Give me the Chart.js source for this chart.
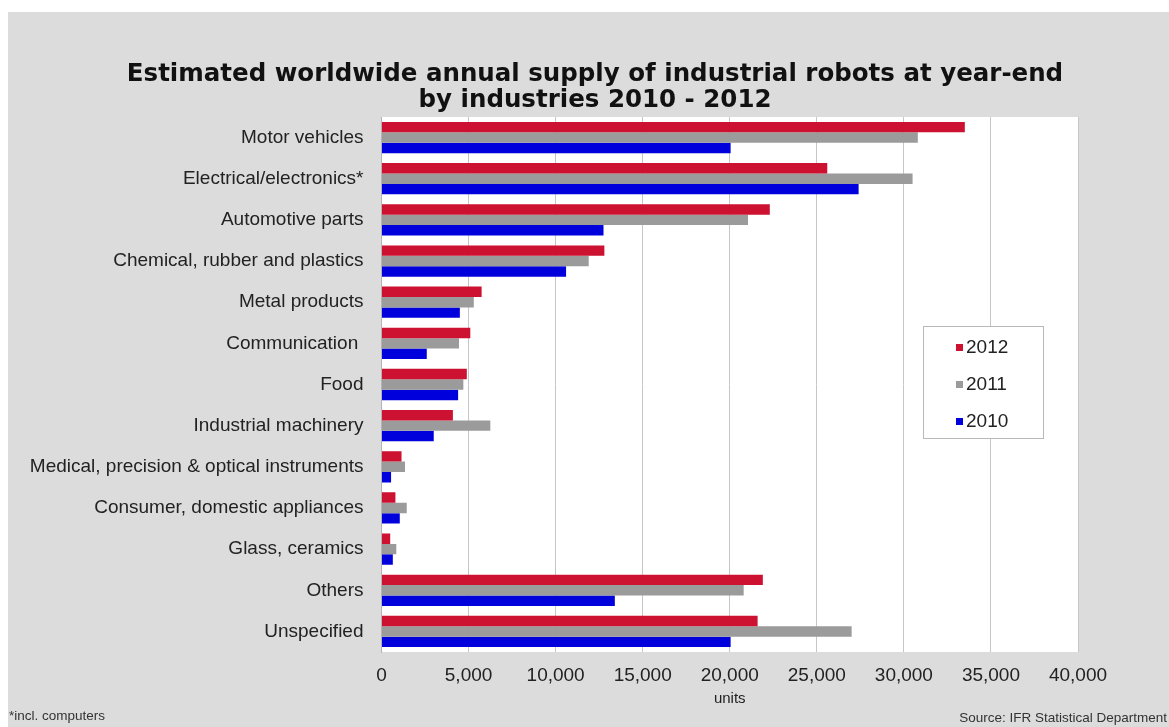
<!DOCTYPE html>
<html lang="en">
<head>
    <meta charset="UTF-8">
    <title>Industrial robots by industries</title>
    <script src="https://cdn.jsdelivr.net/npm/chart.js"></script>
    <style>
        body {
            margin: 0;
            background: #ffffff;
        }
        #wrap {
            position: absolute;
            left: 8px;
            top: 12px;
            width: 1161px;
            height: 715px;
            background: #dcdcdc;
        }
    </style>
</head>
<body>
    <div id="wrap">
        <canvas id="myChart" width="1161" height="715"></canvas>
    </div>

    <script>
        const titleLines = ['Estimated worldwide annual supply of industrial robots at year-end', 'by industries 2010 - 2012'];
        const industries = [
            'Motor vehicles',
            'Electrical/electronics*',
            'Automotive parts',
            'Chemical, rubber and plastics',
            'Metal products',
            'Communication ',
            'Food',
            'Industrial machinery',
            'Medical, precision & optical instruments',
            'Consumer, domestic appliances',
            'Glass, ceramics',
            'Others',
            'Unspecified'
        ];
        const years = ['2012', '2011', '2010'];
        const supply2012 = [33500, 25600, 22300, 12800, 5750, 5100, 4900, 4100, 1150, 800, 500, 21900, 21600];
        const supply2011 = [30800, 30500, 21050, 11900, 5300, 4450, 4700, 6250, 1350, 1450, 850, 20800, 27000];
        const supply2010 = [20050, 27400, 12750, 10600, 4500, 2600, 4400, 3000, 550, 1050, 650, 13400, 20050];
        const xTicks = [0, 5000, 10000, 15000, 20000, 25000, 30000, 35000, 40000];
        const colors = ['#cc1131', '#9b9b9b', '#0000dc'];

        const fontName = "'Liberation Sans', Arial, sans-serif";

        // white plot background
        const plotBackground = {
            id: 'plotBackground',
            beforeDraw(chart) {
                const a = chart.chartArea;
                const c = chart.ctx;
                c.save();
                c.fillStyle = '#ffffff';
                c.fillRect(a.left, a.top, a.right - a.left, a.bottom - a.top);
                c.restore();
            }
        };

        // title, boxed legend inside the plot, footnotes
        const extras = {
            id: 'extras',
            afterDraw(chart) {
                const c = chart.ctx;
                c.save();
                c.textBaseline = 'middle';
                c.textAlign = 'center';
                c.fillStyle = '#111111';
                c.font = "bold 24.5px 'DejaVu Sans', sans-serif";
                c.fillText(titleLines[0], 587, 63);
                c.fillText(titleLines[1], 587, 89);

                c.textAlign = 'left';
                c.fillStyle = '#ffffff';
                c.fillRect(915, 314, 120, 112);
                c.strokeStyle = '#b8b8b8';
                c.lineWidth = 1;
                c.strokeRect(915.5, 314.5, 120, 112);
                c.font = '19px ' + fontName;
                chart.data.datasets.forEach((ds, i) => {
                    const y = 335 + i * 37;
                    c.fillStyle = ds.backgroundColor;
                    c.fillRect(948, y - 3, 7, 7);
                    c.fillStyle = '#222222';
                    c.fillText(ds.label, 958, y + 1);
                });

                c.font = '13.5px ' + fontName;
                c.fillStyle = '#333333';
                c.fillText('*incl. computers', 1, 704);
                c.textAlign = 'right';
                c.fillText('Source: IFR Statistical Department', 1159, 706);
                c.restore();
            }
        };

        const ctx = document.getElementById('myChart').getContext('2d');
        const myChart = new Chart(ctx, {
            type: 'bar',
            data: {
                labels: industries,
                datasets: [
                    { label: years[0], data: supply2012, backgroundColor: colors[0] },
                    { label: years[1], data: supply2011, backgroundColor: colors[1] },
                    { label: years[2], data: supply2010, backgroundColor: colors[2] }
                ]
            },
            options: {
                indexAxis: 'y',
                responsive: false,
                animation: false,
                devicePixelRatio: 1,
                categoryPercentage: 0.76,
                barPercentage: 1.0,
                layout: {
                    padding: { left: 0, right: 91, top: 105, bottom: 0 }
                },
                plugins: {
                    legend: { display: false },
                    tooltip: { enabled: false },
                    title: { display: false }
                },
                scales: {
                    x: {
                        min: 0,
                        max: 40000,
                        afterBuildTicks(scale) {
                            scale.ticks = xTicks.map(v => ({ value: v }));
                        },
                        afterFit(scale) {
                            scale.height = 75;
                        },
                        ticks: {
                            callback: v => v.toLocaleString('en-US'),
                            font: { family: fontName, size: 19 },
                            color: '#222222',
                            padding: 12,
                            maxRotation: 0
                        },
                        grid: { color: '#c6c6c6', drawTicks: false },
                        border: { display: false },
                        title: {
                            display: true,
                            text: 'units',
                            font: { family: fontName, size: 15 },
                            color: '#222222',
                            padding: { top: 0, bottom: 19 }
                        }
                    },
                    y: {
                        afterFit(scale) {
                            scale.width = 373.5;
                        },
                        ticks: {
                            font: { family: fontName, size: 19 },
                            color: '#222222',
                            padding: 10
                        },
                        grid: { display: false },
                        border: { display: true, color: '#b4b4b4' }
                    }
                }
            },
            plugins: [plotBackground, extras]
        });
    </script>
</body>
</html>
